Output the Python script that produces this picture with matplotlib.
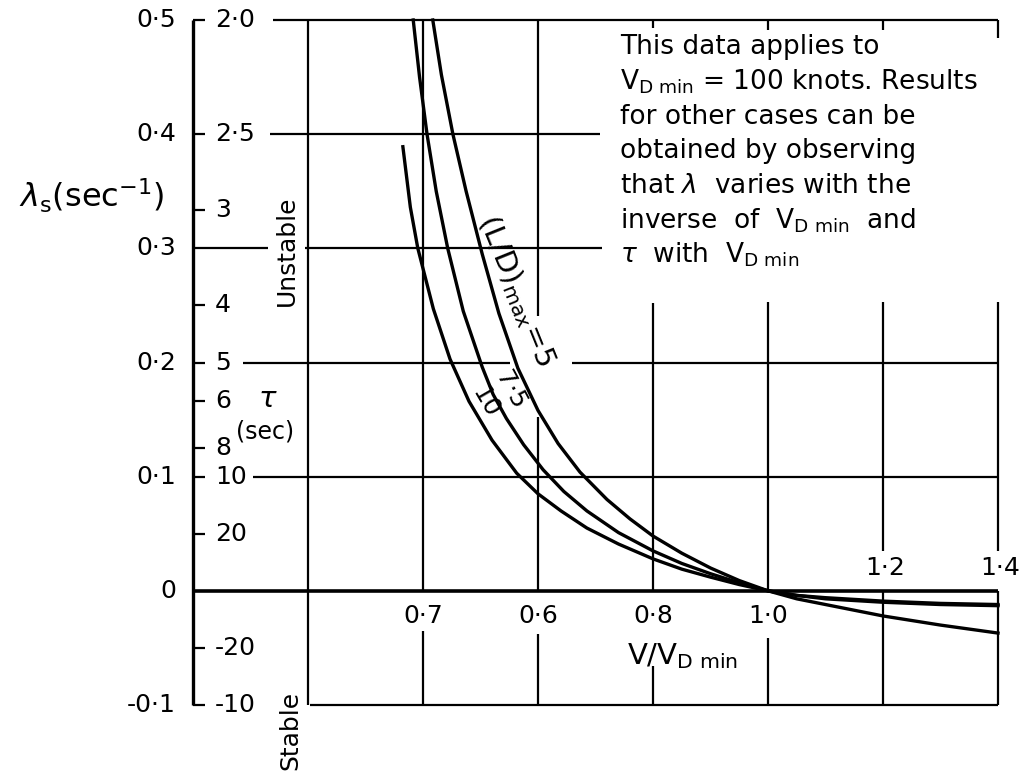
import numpy as np
import matplotlib.pyplot as plt

plt.rcParams['font.family'] = ['DejaVu Sans']
plt.rcParams['mathtext.fontset'] = 'dejavusans'

# damping factor lambda_s against V/V_D min, one curve per (L/D)max
ld5_x = [0.417, 0.432, 0.452, 0.475, 0.503, 0.532, 0.565, 0.600, 0.635, 0.673, 0.720,
         0.760, 0.800, 0.850, 0.900, 0.950, 1.000, 1.050, 1.100, 1.200, 1.300, 1.400]
ld5_y = [0.500, 0.452, 0.400, 0.350, 0.295, 0.243, 0.195, 0.158, 0.129, 0.104, 0.080,
         0.063, 0.048, 0.033, 0.020, 0.009, 0.000, -0.007, -0.012, -0.022, -0.030, -0.037]

ld75_x = [0.383, 0.394, 0.407, 0.423, 0.443, 0.470, 0.503, 0.522, 0.545, 0.575, 0.609, 0.645,
          0.685, 0.740, 0.800, 0.850, 0.900, 0.950, 1.000, 1.050, 1.100, 1.200, 1.300, 1.400]
ld75_y = [0.500, 0.450, 0.400, 0.350, 0.300, 0.245, 0.196, 0.172, 0.151, 0.128, 0.106, 0.087,
          0.070, 0.051, 0.035, 0.024, 0.015, 0.007, 0.000, -0.004, -0.007, -0.010, -0.012, -0.013]

ld10_x = [0.365, 0.378, 0.391, 0.418, 0.447, 0.480, 0.520, 0.563, 0.600, 0.640, 0.685,
          0.740, 0.800, 0.850, 0.900, 0.950, 1.000, 1.050, 1.100, 1.200, 1.300, 1.400]
ld10_y = [0.389, 0.336, 0.300, 0.247, 0.203, 0.166, 0.132, 0.103, 0.085, 0.070, 0.055,
          0.041, 0.028, 0.019, 0.012, 0.0055, 0.000, -0.004, -0.006, -0.009, -0.011, -0.012]

lam_ticks = [0.5, 0.4, 0.3, 0.2, 0.1, 0.0, -0.1]
lam_labels = ['0·5', '0·4', '0·3', '0·2', '0·1', '0', '-0·1']

tau_values = [2.0, 2.5, 3, 4, 5, 6, 8, 10, 20, -20, -10]
tau_labels = ['2·0', '2·5', '3', '4', '5', '6', '8', '10', '20', '-20', '-10']

x_below = [0.4, 0.6, 0.8, 1.0]
x_below_labels = ['0·7', '0·6', '0·8', '1·0']
x_above = [1.2, 1.4]
x_above_labels = ['1·2', '1·4']

note_lines = [
    'This data applies to',
    r'V$_{\mathrm{D\ min}}$ = 100 knots. Results',
    'for other cases can be',
    'obtained by observing',
    r'that $\lambda$  varies with the',
    r'inverse  of  V$_{\mathrm{D\ min}}$  and',
    r'$\tau$  with  V$_{\mathrm{D\ min}}$',
]

fig = plt.figure(figsize=(10.33, 7.73), dpi=100)
ax = fig.add_axes([193 / 1033, 1 - 705 / 773, (998 - 193) / 1033, (705 - 20) / 773])
ax.set_xlim(0, 1.4)
ax.set_ylim(-0.1, 0.5)
ax.axis('off')

K = dict(color='black', clip_on=False, solid_capstyle='butt')
GL = 1.6
FS = 18

# lambda scale spine with the tau ticks on its right
ax.plot([0, 0], [-0.1, 0.5], lw=2.4, **K)
for t, s in zip(tau_values, tau_labels):
    ax.plot([0, 0.021], [1 / t, 1 / t], lw=GL, **K)
    ax.text(0.038, 1 / t, s, fontsize=FS, ha='left', va='center')
for v, s in zip(lam_ticks, lam_labels):
    ax.text(-0.03, v, s, fontsize=FS, ha='right', va='center')

# horizontal grid lines, broken where lettering sits
hsegs = [(0.5, 0.139, 1.4), (0.4, 0.134, 0.708), (0.3, 0.003, 0.130),
         (0.3, 0.195, 0.711), (0.2, 0.087, 0.551), (0.2, 0.659, 1.4),
         (0.1, 0.104, 1.4), (-0.1, 0.203, 1.4)]
for y, x0, x1 in hsegs:
    ax.plot([x0, x1], [y, y], lw=GL, **K)
ax.plot([0, 1.4], [0, 0], lw=2.6, **K)

# vertical grid lines
vsegs = [(0.2, -0.1, 0.5), (0.4, 0.0, 0.5), (0.4, -0.1, -0.035),
         (0.6, 0.241, 0.5), (0.6, 0.0, 0.152), (0.6, -0.1, -0.038),
         (0.8, 0.0, 0.252), (0.8, 0.493, 0.5), (0.8, -0.1, -0.066),
         (1.0, 0.0, 0.253), (1.0, 0.491, 0.5), (1.0, -0.1, -0.041),
         (1.2, 0.035, 0.253), (1.2, 0.491, 0.5), (1.2, -0.1, 0.0),
         (1.4, 0.035, 0.253), (1.4, 0.484, 0.5), (1.4, -0.1, 0.0)]
for x, y0, y1 in vsegs:
    ax.plot([x, x], [y0, y1], lw=GL, **K)

# performance curves
for xs, ys in [(ld5_x, ld5_y), (ld75_x, ld75_y), (ld10_x, ld10_y)]:
    ax.plot(xs, ys, color='black', lw=2.4, solid_joinstyle='round', clip_on=False)

ax.text(0.563, 0.263, r'$(\mathrm{L/D})_{\mathrm{max}}\!=\!5$', fontsize=21,
        rotation=-68, ha='center', va='center')
ax.text(0.553, 0.176, '7·5', fontsize=18, rotation=-62, ha='center', va='center')
ax.text(0.508, 0.165, '10', fontsize=18, rotation=-60, ha='center', va='center')

for x, s in zip(x_below, x_below_labels):
    ax.text(x, -0.022, s, fontsize=FS, ha='center', va='center')
for x, s in zip(x_above, x_above_labels):
    ax.text(x + 0.004, 0.020, s, fontsize=FS, ha='center', va='center')
ax.text(0.852, -0.057, r'V/V$_{\mathrm{D\ min}}$', fontsize=21, ha='center', va='center')

ax.text(-0.177, 0.346, r'$\lambda_{\mathrm{s}}(\mathrm{sec}^{-1})$', fontsize=23,
        ha='center', va='center')
ax.text(0.130, 0.168, r'$\tau$', fontsize=21, ha='center', va='center')
ax.text(0.125, 0.140, '(sec)', fontsize=17, ha='center', va='center')
ax.text(0.163, 0.298, 'Unstable', fontsize=18, rotation=90, ha='center', va='center')
ax.text(0.169, -0.122, 'Stable', fontsize=18, rotation=90, ha='center', va='center')

# explanatory note in the upper right panel
for i, line in enumerate(note_lines):
    ax.text(0.743, 0.476 - i * 0.0303, line, fontsize=19, ha='left', va='center')

fig.savefig('out.png', dpi=100, facecolor='white')
